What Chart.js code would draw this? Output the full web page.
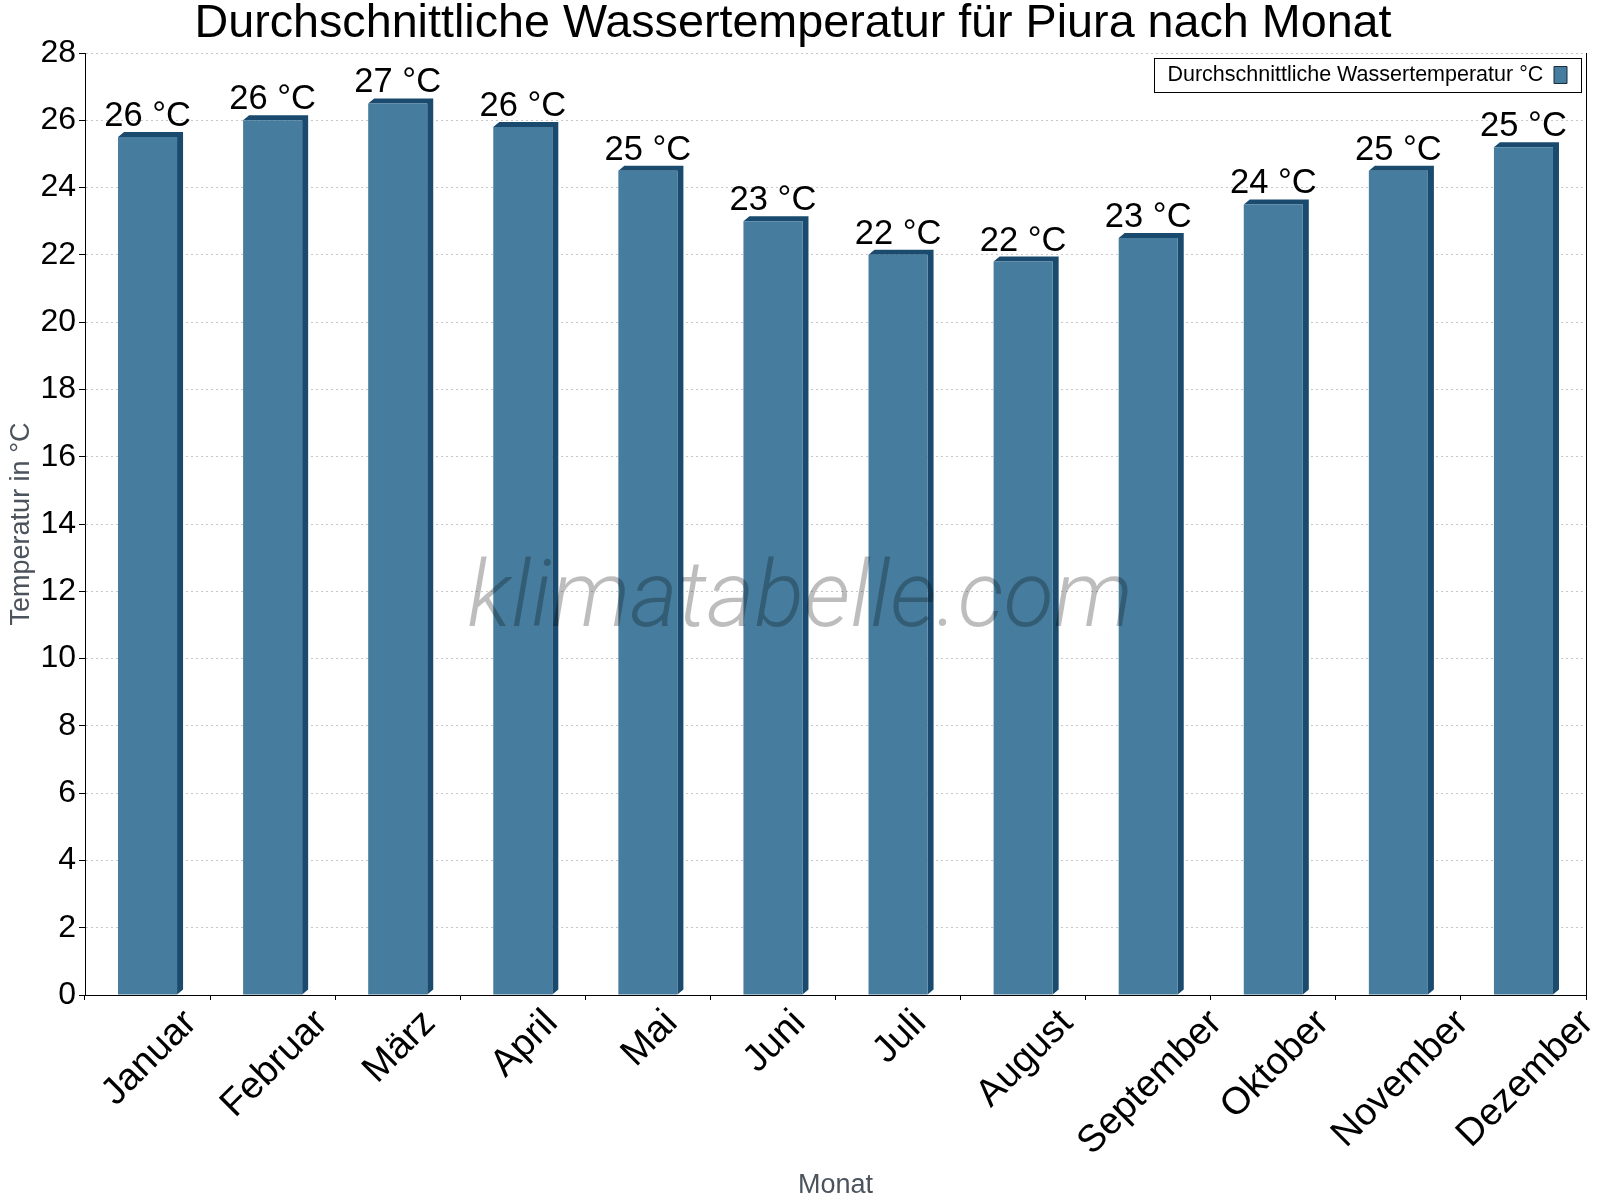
<!DOCTYPE html>
<html>
<head>
<meta charset="utf-8">
<script src="https://cdn.jsdelivr.net/npm/chart.js@4.4.0/dist/chart.umd.min.js"></script>
<style>
  html, body { margin: 0; padding: 0; background: #fff; }
  #wrap { width: 1600px; height: 1200px; }
</style>
</head>
<body>
<div id="wrap"><canvas id="myChart"></canvas></div>
<script>
// Daten
var months = ['Januar', 'Februar', 'März', 'April', 'Mai', 'Juni', 'Juli', 'August', 'September', 'Oktober', 'November', 'Dezember'];
var waterTemp = [25.5, 26.0, 26.5, 25.8, 24.5, 23.0, 22.0, 21.8, 22.5, 23.5, 24.5, 25.2];
var yMin = 0;
var yMax = 28;
var yStep = 2;
var seriesLabel = 'Durchschnittliche Wassertemperatur °C';
var chartTitle = 'Durchschnittliche Wassertemperatur für Piura nach Monat';

var FONT = '"Liberation Sans", Arial, sans-serif';
var barColor = '#467c9e';
var barDark = '#1a4b6e';

// 3D-Schatten hinter den Balken
var bar3d = {
  id: 'bar3d',
  beforeDatasetsDraw: function (chart) {
    var ctx = chart.ctx;
    var dx = 6, dy = 5;
    chart.getDatasetMeta(0).data.forEach(function (el) {
      var l = el.x - el.width / 2, r = el.x + el.width / 2;
      var t = el.y, b = el.base;
      ctx.save();
      ctx.fillStyle = barDark;
      ctx.beginPath();
      ctx.moveTo(l, t);
      ctx.lineTo(l + dx, t - dy);
      ctx.lineTo(r + dx, t - dy);
      ctx.lineTo(r + dx, b - dy);
      ctx.lineTo(r, b);
      ctx.lineTo(r, t);
      ctx.closePath();
      ctx.fill();
      ctx.restore();
    });
  }
};

// Werte über den Balken + Wasserzeichen
var labelsAndMark = {
  id: 'labelsAndMark',
  afterDatasetsDraw: function (chart) {
    var ctx = chart.ctx;
    ctx.save();
    ctx.fillStyle = '#000';
    ctx.font = '34.5px ' + FONT;
    ctx.textAlign = 'center';
    ctx.textBaseline = 'alphabetic';
    chart.getDatasetMeta(0).data.forEach(function (el, i) {
      ctx.fillText(Math.round(waterTemp[i]) + ' °C', el.x, el.y - 11);
    });
    ctx.font = 'italic 300 92px Roboto, "Liberation Sans", sans-serif';
    ctx.fillStyle = 'rgba(0,0,0,0.26)';
    ctx.fillText('klimatabelle.com', chart.width / 2, 626);
    ctx.restore();
  }
};

// gedrehte Monatsnamen mittig unter die Kategorie schieben
var centerTicks = {
  id: 'centerTicks',
  beforeDraw: function (chart) {
    var scale = chart.scales.x;
    var items = scale.getLabelItems();
    if (items._centered) return;
    var ctx = chart.ctx;
    ctx.save();
    items.forEach(function (it) {
      ctx.font = it.font.string;
      var w = ctx.measureText(it.label).width;
      it.options.translation[0] += 0.354 * w + 2;
    });
    ctx.restore();
    items._centered = true;
  }
};

// Legende in die Zeichenfläche rechts oben schieben, Rahmen zeichnen
var frame = {
  id: 'frame',
  afterLayout: function (chart) {
    var lg = chart.legend, ca = chart.chartArea;
    var ctx = chart.ctx;
    ctx.save();
    ctx.font = '21.5px ' + FONT;
    var tw = ctx.measureText(seriesLabel).width;
    ctx.restore();
    var right = ca.right - 5;
    lg.left = right - 14 - 13 - 10.75 - tw - 13;
    lg.right = right;
    lg.width = right - lg.left;
    lg.top = ca.top + 75 - 53 - 14 - 10.75;
    lg.height = 40;
    lg.bottom = lg.top + lg.height;
  },
  afterDraw: function (chart) {
    var ctx = chart.ctx, ca = chart.chartArea, lg = chart.legend;
    ctx.save();
    ctx.strokeStyle = '#000';
    ctx.lineWidth = 1;
    ctx.strokeRect(Math.round(lg.left) + 0.5, Math.round(ca.top + 5) + 0.5, Math.round(lg.width), 34);
    ctx.beginPath();
    ctx.moveTo(Math.round(ca.right) + 0.5, ca.top);
    ctx.lineTo(Math.round(ca.right) + 0.5, ca.bottom + 5);
    ctx.stroke();
    ctx.restore();
  }
};

var ctx = document.getElementById('myChart').getContext('2d');
var barGraph = new Chart(ctx, {
  type: 'bar',
  data: {
    labels: months,
    datasets: [{
      label: seriesLabel,
      data: waterTemp,
      backgroundColor: barColor,
      borderWidth: 0,
      categoryPercentage: 1.0,
      barPercentage: 0.472
    }]
  },
  plugins: [bar3d, labelsAndMark, centerTicks, frame],
  options: {
    responsive: true,
    maintainAspectRatio: false,
    devicePixelRatio: 1,
    animation: false,
    layout: { padding: { left: 0, right: 14, top: 0, bottom: 0 } },
    plugins: {
      title: {
        display: true,
        text: chartTitle,
        color: '#000',
        font: { family: FONT, size: 46.7, weight: 'normal', lineHeight: 1.0 },
        padding: { top: 1, bottom: 5.3 }
      },
      legend: {
        display: true,
        position: 'chartArea',
        align: 'start',
        rtl: true,
        labels: {
          color: '#000',
          font: { family: FONT, size: 21.5 },
          boxWidth: 13,
          boxHeight: 17,
          padding: 14,
          generateLabels: function (chart) {
            var items = Chart.defaults.plugins.legend.labels.generateLabels(chart);
            items.forEach(function (it) {
              it.lineWidth = 1;
              it.strokeStyle = '#1b2b3b';
            });
            return items;
          }
        }
      },
      tooltip: { enabled: false }
    },
    scales: {
      x: {
        afterFit: function (s) { s.height = 205; },
        grid: {
          display: true,
          drawOnChartArea: false,
          offset: true,
          tickLength: 5,
          color: '#000'
        },
        border: { color: '#000', width: 1 },
        ticks: {
          autoSkip: false,
          minRotation: 45,
          maxRotation: 45,
          padding: 1,
          color: '#000',
          font: { family: FONT, size: 38 }
        },
        title: {
          display: true,
          text: 'Monat',
          color: '#4b535c',
          font: { family: FONT, size: 27 },
          padding: { top: 0, bottom: -2 }
        }
      },
      y: {
        min: yMin,
        max: yMax,
        afterFit: function (s) { s.width = 85; },
        grid: {
          color: '#c8c8c8',
          tickColor: '#000',
          tickLength: 6
        },
        border: { color: '#000', width: 1, dash: [2, 3] },
        ticks: {
          stepSize: yStep,
          padding: 3,
          color: '#000',
          font: { family: FONT, size: 32 }
        },
        title: {
          display: true,
          text: 'Temperatur in °C',
          color: '#4b535c',
          font: { family: FONT, size: 27 },
          padding: { top: 5, bottom: 0 }
        }
      }
    }
  }
});
</script>
</body>
</html>
